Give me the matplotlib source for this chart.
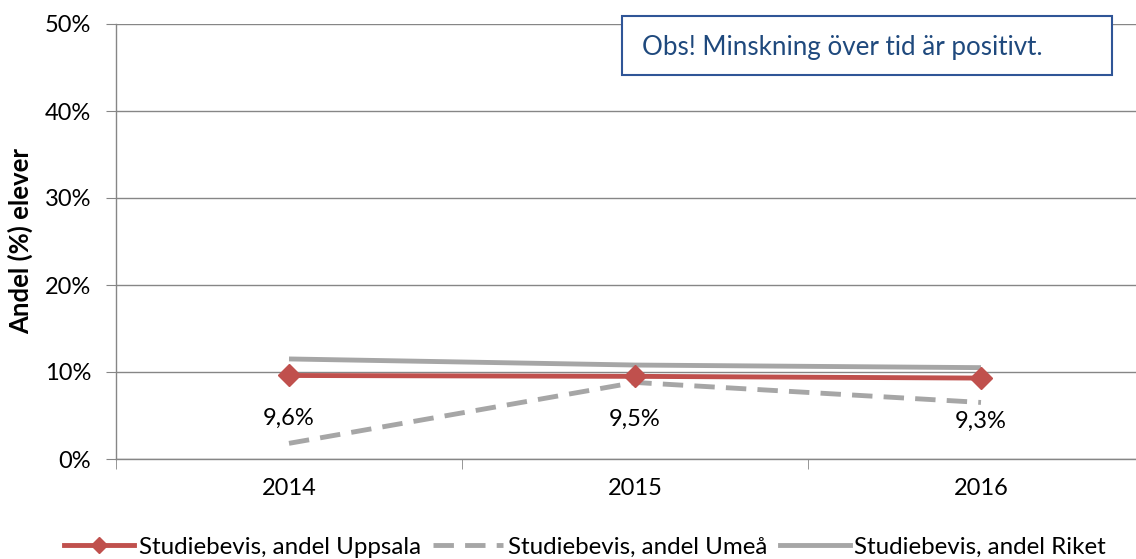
import matplotlib.pyplot as plt
from matplotlib.lines import Line2D
from matplotlib.patches import Rectangle

# Données
annees = ["2014", "2015", "2016"]
uppsala = [9.6, 9.5, 9.3]
umea = [1.8, 8.8, 6.5]
riket = [11.5, 10.8, 10.5]
etiquettes_uppsala = ["9,6%", "9,5%", "9,3%"]
y_ticks = [0, 10, 20, 30, 40, 50]
y_labels = ["0%", "10%", "20%", "30%", "40%", "50%"]

plt.rcParams['font.family'] = ['Lato', 'DejaVu Sans']

rouge = "#C0504D"
gris = "#A6A6A6"
grille = "#868686"
tirets = (0, (4.2, 2.3))

fig = plt.figure(figsize=(11.36, 5.59), dpi=100)
ax = fig.add_axes([116 / 1136, 1 - 459 / 559, 1038 / 1136, 435 / 559])

x = list(range(len(annees)))

ax.plot(x, riket, color=gris, linewidth=3.5, solid_capstyle='butt', zorder=3)
ax.plot(x, umea, color=gris, linewidth=3.5, linestyle=tirets, zorder=3)
ax.plot(x, uppsala, color=rouge, linewidth=3.5, marker='D', markersize=11.5,
        markeredgecolor=rouge, zorder=4)

for xi, yi, lab in zip(x, uppsala, etiquettes_uppsala):
    ax.annotate(lab, (xi, yi), xytext=(0, -31), textcoords='offset points',
                ha='center', va='center', fontsize=17, color="black")

ax.set_xlim(-0.5, 2.5)
ax.set_ylim(0, 50)
ax.set_yticks(y_ticks)
ax.set_yticklabels(y_labels, fontsize=17)
ax.set_xticks(x)
ax.set_xticklabels(annees, fontsize=17)
ax.set_xticks([-0.5, 0.5, 1.5, 2.5], minor=True)
ax.tick_params(axis='x', which='major', length=0, pad=14)
ax.tick_params(axis='x', which='minor', length=7, color=grille, direction='out')
ax.tick_params(axis='y', length=7, color=grille, direction='out', pad=11)

ax.yaxis.grid(True, color=grille, linewidth=1.0)
ax.set_axisbelow(True)
for s in ['top', 'right']:
    ax.spines[s].set_visible(False)
for s in ['left', 'bottom']:
    ax.spines[s].set_color(grille)
    ax.spines[s].set_linewidth(1.0)

ax.set_ylabel("Andel (%) elever", fontsize=18.5, fontweight='bold')
ax.yaxis.set_label_coords(-83 / 1038, 0.5)

# Encadré d'information
fig.patches.append(Rectangle((622 / 1136, 1 - 75 / 559), 490 / 1136, 59 / 559,
                             transform=fig.transFigure, facecolor='white',
                             edgecolor="#2F5597", linewidth=1.5, zorder=5))
fig.text(642 / 1136, 1 - 47 / 559, "Obs! Minskning över tid är positivt.",
         fontsize=18.7, color="#1F497D", ha='left', va='center', zorder=6)

# Légende
poignees = [
    Line2D([], [], color=rouge, linewidth=3.5, marker='D', markersize=8),
    Line2D([], [], color=gris, linewidth=3.5, linestyle=tirets),
    Line2D([], [], color=gris, linewidth=3.5),
]
noms = ["Studiebevis, andel Uppsala", "Studiebevis, andel Umeå",
        "Studiebevis, andel Riket"]
fig.legend(poignees, noms, loc='center left',
           bbox_to_anchor=(52 / 1136, 1 - 547 / 559),
           ncol=3, frameon=False, fontsize=17.4, handlelength=2.9,
           handletextpad=0.2, columnspacing=0.5, borderpad=0)

fig.savefig("out.png", dpi=100)
plt.close(fig)
